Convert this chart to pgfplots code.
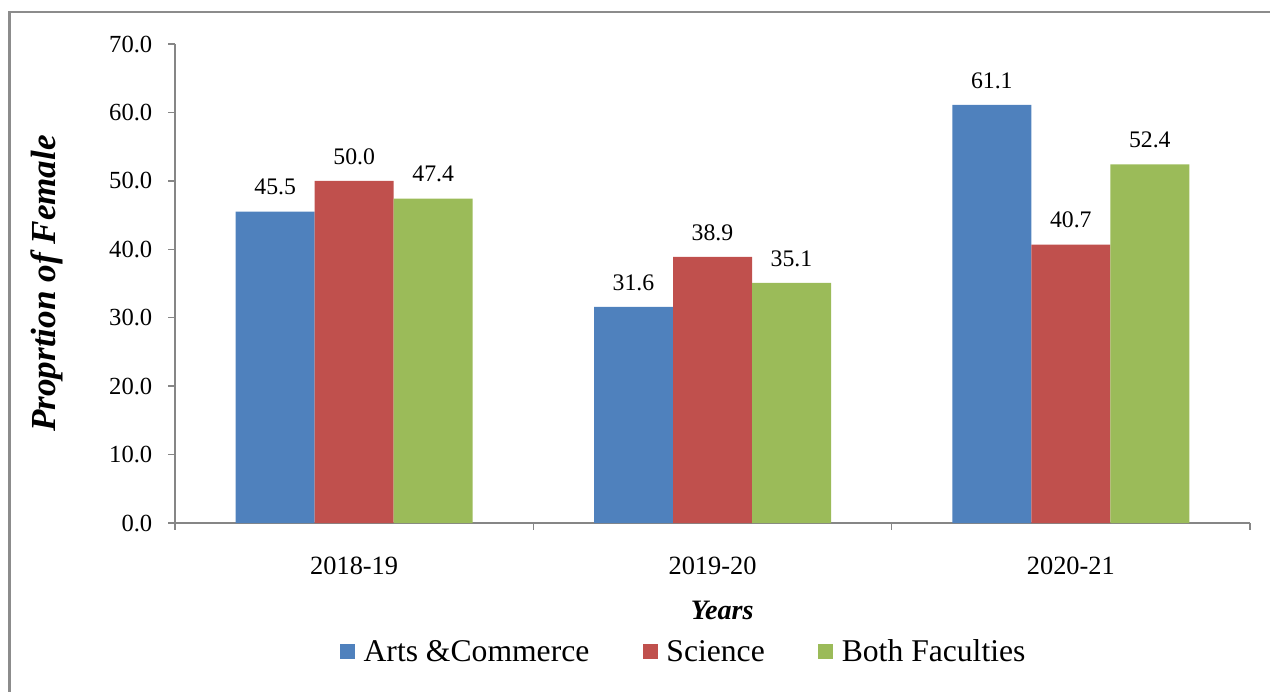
\documentclass[border=0pt]{standalone}
\usepackage{fontspec}
\setmainfont{Liberation Serif}
\usepackage{pgfplots}
\pgfplotsset{compat=1.18}
\definecolor{ArtsBlue}{HTML}{4F81BD}
\definecolor{SciRed}{HTML}{C0504D}
\definecolor{BothGreen}{HTML}{9BBB59}
\definecolor{AxisGray}{HTML}{868686}
\definecolor{FrameGray}{HTML}{8C8C8C}

\begin{document}
\begin{tikzpicture}
    \useasboundingbox (0,0) rectangle (25.4,13.82);
    % outer frame (cut at the right and bottom like the source)
    \draw[FrameGray, line width=1.4pt] (0.19,-0.5) -- (0.19,13.58) -- (26,13.58);
    \begin{axis}[
        at={(3.5cm,3.36cm)}, anchor=south west,
        scale only axis,
        width=21.5cm, height=9.58cm,
        ybar=0pt, bar width=1.58cm,
        xmin=-0.5, xmax=2.5,
        ymin=0, ymax=70,
        ytick={0,10,...,70},
        % group boundaries carry the tick marks, categories carry the labels
        xtick={-0.5,0.5,1.5,2.5},
        xticklabels={},
        extra x ticks={0,1,2},
        extra x tick labels={2018-19,2019-20,2020-21},
        extra x tick style={major tick length=0pt},
        axis x line*=bottom, axis y line*=left,
        axis line style={AxisGray, line width=0.85pt, -},
        tick style={AxisGray, line width=0.85pt},
        tick align=outside, major tick length=0.13cm,
        /pgf/number format/assume math mode=true,
        yticklabel style={/pgf/number format/.cd, fixed, fixed zerofill, precision=1,
            /tikz/.cd, font=\fontsize{14}{16}\selectfont, xshift=-0.2cm},
        xticklabel style={font=\fontsize{15}{17}\selectfont, yshift=-0.55cm},
        nodes near coords,
        nodes near coords style={font=\fontsize{13.5}{15}\selectfont, inner sep=0pt,
            anchor=south, yshift=0.32cm,
            /pgf/number format/.cd, fixed, fixed zerofill, precision=1,
            assume math mode=true},
        xlabel={\textbf{\textit{Years}}},
        xlabel style={font=\fontsize{16}{18}\selectfont,
            at={(axis description cs:0.509,-0.182)}, anchor=center},
        ylabel={\textbf{\textit{Proprtion of Female}}},
        ylabel style={font=\fontsize{20}{22}\selectfont,
            at={(axis description cs:-0.119,0.5)}, anchor=center, rotate=0},
        legend columns=3,
        legend style={draw=none, fill=none,
            at={(axis description cs:0.474,-0.269)}, anchor=center,
            font=\fontsize{18}{20}\selectfont,
            /tikz/every odd column/.append style={column sep=0.1cm},
            /tikz/every even column/.append style={column sep=1.0cm}},
        legend image code/.code={\fill[#1] (0cm,-0.15cm) rectangle (0.3cm,0.15cm);},
        legend cell align=left,
    ]
        \addplot[fill=ArtsBlue, draw=none] coordinates {(0,45.5) (1,31.6) (2,61.1)};
        \addlegendentry{Arts \&Commerce}
        \addplot[fill=SciRed, draw=none] coordinates {(0,50.0) (1,38.9) (2,40.7)};
        \addlegendentry{Science}
        \addplot[fill=BothGreen, draw=none] coordinates {(0,47.4) (1,35.1) (2,52.4)};
        \addlegendentry{Both Faculties}
    \end{axis}
\end{tikzpicture}
\end{document}
